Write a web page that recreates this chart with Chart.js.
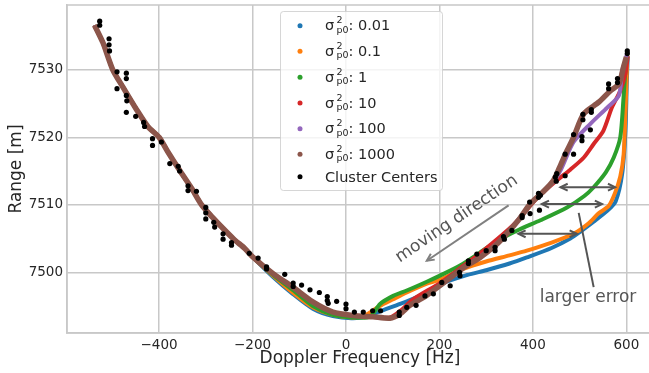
<!DOCTYPE html>
<html>
<head>
<meta charset="utf-8">
<script src="https://cdn.jsdelivr.net/npm/chart.js@4.4.0/dist/chart.umd.min.js"></script>
<style>
body { margin: 0; overflow: hidden; background: #fff; }
#wrap { width: 660px; height: 373px; }
</style>
</head>
<body>
<div id="wrap"><canvas id="mychart" width="660" height="373"></canvas></div>
<script>
// ticks
const freqTicks = [-400, -200, 0, 200, 400, 600];
const rangeTicks = [7500, 7510, 7520, 7530];

// left branch, all six runs lie on top of each other here
const sharedFreq = [-538, -520, -499, -477, -449, -424, -400, -380, -356, -330, -309, -285, -266, -240, -216, -200];
const sharedRange = [7536.6, 7534.0, 7530.0, 7527.4, 7524.2, 7521.6, 7520.0, 7517.7, 7515.1, 7512.4, 7510.0, 7508.1, 7506.7, 7504.9, 7503.5, 7502.3];

// sigma_p0^2 = 0.01
const blueFreq = [-156, -114, -71, -28, 15, 50, 80, 116, 160, 201, 260, 300, 350, 387, 440, 480, 501, 530, 559, 577, 591, 598, 601, 603];
const blueRange = [7499.3, 7496.8, 7494.6, 7493.5, 7493.2, 7493.6, 7494.4, 7495.3, 7496.6, 7498.2, 7499.6, 7500.3, 7501.3, 7502.2, 7503.6, 7505.0, 7506.0, 7507.5, 7509.1, 7510.5, 7514.6, 7521.0, 7528.4, 7532.0];
// 0.1
const orangeFreq = [-156, -114, -71, -28, 15, 40, 70, 101, 130, 173, 201, 251, 300, 350, 387, 440, 487, 520, 540, 562, 576, 587, 594, 598, 601, 602];
const orangeRange = [7499.5, 7497.0, 7494.8, 7493.7, 7493.3, 7493.6, 7494.9, 7496.0, 7497.0, 7498.3, 7498.9, 7500.5, 7501.6, 7502.5, 7503.2, 7504.4, 7505.7, 7507.3, 7508.7, 7509.8, 7511.8, 7514.2, 7517.3, 7523.5, 7529.9, 7532.5];
// 1
const greenFreq = [-156, -114, -71, -28, 15, 51, 73, 101, 130, 173, 201, 244, 280, 323, 370, 416, 473, 510, 530, 556, 573, 587, 594, 599, 602];
const greenRange = [7499.6, 7497.4, 7495.0, 7493.7, 7493.3, 7493.4, 7495.3, 7496.5, 7497.3, 7498.6, 7499.5, 7501.0, 7502.6, 7504.6, 7506.3, 7507.7, 7509.6, 7511.3, 7512.6, 7514.8, 7517.0, 7520.0, 7525.9, 7530.9, 7532.5];
// 10
const redFreq = [-156, -114, -71, -28, 15, 58, 94, 115, 144, 201, 250, 287, 358, 409, 451, 480, 509, 530, 551, 569, 587, 598, 603];
const redRange = [7499.8, 7497.8, 7495.6, 7494.1, 7493.6, 7493.4, 7493.3, 7494.2, 7496.0, 7498.4, 7500.9, 7502.8, 7507.0, 7511.0, 7513.6, 7515.2, 7517.0, 7519.0, 7521.0, 7524.4, 7526.9, 7529.4, 7532.0];
// 100
const purpleFreq = [-156, -114, -71, -28, 15, 58, 94, 115, 137, 171, 216, 250, 287, 320, 344, 370, 394, 420, 444, 460, 487, 523, 559, 584, 591, 598, 602];
const purpleRange = [7499.8, 7497.8, 7495.6, 7494.1, 7493.6, 7493.4, 7493.2, 7493.8, 7495.1, 7496.5, 7498.8, 7500.6, 7502.3, 7504.1, 7505.8, 7507.9, 7510.1, 7511.8, 7513.4, 7515.2, 7519.3, 7522.0, 7524.4, 7526.2, 7529.9, 7531.4, 7532.6];
// 1000
const brownFreq = [-156, -114, -71, -28, 15, 58, 94, 115, 137, 171, 216, 250, 287, 320, 344, 370, 394, 420, 444, 460, 473, 487, 509, 541, 566, 584, 594, 600];
const brownRange = [7499.8, 7497.8, 7495.6, 7494.1, 7493.6, 7493.4, 7493.2, 7493.8, 7495.1, 7496.5, 7498.8, 7500.6, 7502.2, 7504.0, 7505.7, 7507.8, 7510.1, 7511.8, 7513.6, 7516.0, 7518.0, 7520.0, 7523.5, 7525.2, 7526.9, 7527.9, 7530.4, 7531.9];

// cluster centers
const clusterFreq = [-527, -527, -507, -507, -506, -490, -470, -470, -490, -470, -469, -470, -450, -433, -431, -414, -414, -395, -377, -359, -356, -338, -338, -320, -300, -300, -300, -283, -281, -263, -263, -245, -245, -207, -188, -170, -170, -131, -113, -113, -95, -77, -57, -40, -40, -38, -20, 0, 0, 18, 37, 57, 74, 114, 114, 130, 150, 169, 187, 205, 223, 243, 244, 262, 262, 280, 300, 319, 319, 337, 339, 355, 377, 377, 394, 393, 412, 412, 414, 416, 448, 450, 451, 469, 469, 487, 487, 505, 505, 507, 507, 523, 525, 525, 562, 562, 581, 581, 602, 602];
const clusterRange = [7537.2, 7536.6, 7534.6, 7533.7, 7532.8, 7529.7, 7529.5, 7528.7, 7527.2, 7526.2, 7525.4, 7523.7, 7523.1, 7522.2, 7521.6, 7519.8, 7518.8, 7519.3, 7516.1, 7515.7, 7515.0, 7512.8, 7512.1, 7512.0, 7509.6, 7508.8, 7507.9, 7507.4, 7506.7, 7505.7, 7504.9, 7504.4, 7504.0, 7502.8, 7502.1, 7500.8, 7500.5, 7499.7, 7498.4, 7497.9, 7498.1, 7497.4, 7497.0, 7496.4, 7495.8, 7495.4, 7495.7, 7495.3, 7494.6, 7494.1, 7494.1, 7494.3, 7494.3, 7494.1, 7493.6, 7494.8, 7495.1, 7496.5, 7496.8, 7498.5, 7498.0, 7500.0, 7499.5, 7501.7, 7501.3, 7502.7, 7503.2, 7503.7, 7503.2, 7505.3, 7504.9, 7506.2, 7508.1, 7508.4, 7508.7, 7510.4, 7511.7, 7511.1, 7509.2, 7511.4, 7514.1, 7513.5, 7514.6, 7517.5, 7514.3, 7517.5, 7520.4, 7520.1, 7519.5, 7523.4, 7522.6, 7521.1, 7524.1, 7523.7, 7527.9, 7527.2, 7528.7, 7528.1, 7532.4, 7532.8];

const sigmaLabels = ['0.01', '0.1', '1', '10', '100', '1000'];
const colors = ['#1f77b4', '#ff7f0e', '#2ca02c', '#d62728', '#9467bd', '#8c564b'];

function pts(fx, ry) {
  return fx.map((f, i) => ({x: f, y: ry[i]}));
}
function run(tailF, tailR) {
  return pts(sharedFreq.concat(tailF), sharedRange.concat(tailR));
}

const runs = [
  run(blueFreq, blueRange),
  run(orangeFreq, orangeRange),
  run(greenFreq, greenRange),
  run(redFreq, redRange),
  run(purpleFreq, purpleRange),
  run(brownFreq, brownRange)
];

const datasets = runs.map((d, i) => ({
  label: sigmaLabels[i],
  data: d,
  showLine: true,
  borderColor: colors[i],
  backgroundColor: colors[i],
  borderWidth: i === 5 ? 5.5 : 4,
  pointRadius: 0,
  tension: 0.25,
  order: 6 - i
}));
datasets.push({
  label: 'Cluster Centers',
  data: pts(clusterFreq, clusterRange),
  backgroundColor: '#000',
  borderColor: '#000',
  pointRadius: 2.6,
  borderWidth: 0,
  order: 0
});

const FONT = 'DejaVu Sans';
const txt = '#262626';

function arrowHead(ctx, x1, y1, x2, y2, len) {
  const a = Math.atan2(y2 - y1, x2 - x1);
  ctx.beginPath();
  ctx.moveTo(x2 - len * Math.cos(a - 0.45), y2 - len * Math.sin(a - 0.45));
  ctx.lineTo(x2, y2);
  ctx.lineTo(x2 - len * Math.cos(a + 0.45), y2 - len * Math.sin(a + 0.45));
  ctx.stroke();
}

function arrow(ctx, x1, y1, x2, y2, both) {
  ctx.beginPath();
  ctx.moveTo(x1, y1);
  ctx.lineTo(x2, y2);
  ctx.stroke();
  arrowHead(ctx, x1, y1, x2, y2, 8);
  if (both) arrowHead(ctx, x2, y2, x1, y1, 8);
}

const extras = {
  id: 'extras',
  afterDraw(chart) {
    const {ctx, chartArea: a, scales: {x, y}} = chart;
    ctx.save();
    // frame
    ctx.strokeStyle = '#c8c8c8';
    ctx.lineWidth = 1.5;
    ctx.strokeRect(a.left, a.top, a.right - a.left, a.bottom - a.top);

    // moving direction
    ctx.strokeStyle = '#808080';
    ctx.lineWidth = 2;
    arrow(ctx, x.getPixelForValue(348), y.getPixelForValue(7509.9), x.getPixelForValue(173), y.getPixelForValue(7501.7), false);
    ctx.save();
    ctx.translate(x.getPixelForValue(237), y.getPixelForValue(7507.9));
    ctx.rotate(-34 * Math.PI / 180);
    ctx.fillStyle = '#555';
    ctx.font = '17px ' + FONT;
    ctx.textAlign = 'center';
    ctx.textBaseline = 'middle';
    ctx.fillText('moving direction', 0, 0);
    ctx.restore();

    // error arrows
    ctx.strokeStyle = '#555';
    ctx.lineWidth = 2;
    arrow(ctx, x.getPixelForValue(459), y.getPixelForValue(7512.6), x.getPixelForValue(576), y.getPixelForValue(7512.6), true);
    arrow(ctx, x.getPixelForValue(419), y.getPixelForValue(7510.1), x.getPixelForValue(548), y.getPixelForValue(7510.1), true);
    arrow(ctx, x.getPixelForValue(369), y.getPixelForValue(7505.7), x.getPixelForValue(494), y.getPixelForValue(7505.7), true);
    ctx.beginPath();
    ctx.moveTo(x.getPixelForValue(498), y.getPixelForValue(7508.8));
    ctx.lineTo(x.getPixelForValue(530), y.getPixelForValue(7497.8));
    ctx.stroke();
    ctx.fillStyle = '#555';
    ctx.font = '17px ' + FONT;
    ctx.textAlign = 'center';
    ctx.textBaseline = 'middle';
    ctx.fillText('larger error', x.getPixelForValue(518), y.getPixelForValue(7496.3));

    // legend
    const lx = 280, ly = 11, lw = 162, lh = 179;
    ctx.fillStyle = 'rgba(255,255,255,0.8)';
    ctx.strokeStyle = 'rgba(204,204,204,0.8)';
    ctx.lineWidth = 1;
    ctx.beginPath();
    ctx.roundRect(lx + 0.5, ly + 0.5, lw, lh, 3);
    ctx.fill();
    ctx.stroke();
    const rows = [25.7, 51.3, 77.3, 103, 128.7, 154.3, 176.7];
    ctx.textAlign = 'left';
    ctx.textBaseline = 'alphabetic';
    rows.forEach((ry, i) => {
      ctx.fillStyle = i < 6 ? colors[i] : '#000';
      ctx.beginPath();
      ctx.arc(300, ry, 2.5, 0, Math.PI * 2);
      ctx.fill();
      ctx.fillStyle = txt;
      if (i < 6) {
        ctx.font = '14.5px ' + FONT;
        ctx.fillText('\u03c3', 325, ry + 4.5);
        ctx.font = '9.5px ' + FONT;
        ctx.fillText('2', 336.5, ry - 2.5);
        ctx.fillText('p0', 336.5, ry + 7);
        ctx.font = '14.5px ' + FONT;
        ctx.fillText(': ' + sigmaLabels[i], 348.5, ry + 4.5);
      } else {
        ctx.font = '14.5px ' + FONT;
        ctx.fillText('Cluster Centers', 325, ry + 4.8);
      }
    });
    ctx.restore();
  }
};

const tickFont = {family: FONT, size: 13.5};
const titleFont = {family: FONT, size: 17};

const chart1 = new Chart(document.getElementById('mychart'), {
  type: 'scatter',
  data: {datasets},
  options: {
    responsive: false,
    animation: false,
    devicePixelRatio: 1,
    layout: {padding: {top: 5, right: 7, left: 0, bottom: 0}},
    plugins: {legend: {display: false}, tooltip: {enabled: false}},
    scales: {
      x: {
        type: 'linear',
        min: -597,
        max: 657,
        afterBuildTicks: s => { s.ticks = freqTicks.map(v => ({value: v})); },
        afterFit: s => { s.height = 40; s.paddingLeft = 0; s.paddingRight = 0; },
        grid: {color: '#c8c8c8', lineWidth: 1.5, drawTicks: false},
        border: {color: '#c8c8c8', width: 1.5},
        ticks: {
          color: txt, font: tickFont, padding: 4, maxRotation: 0,
          callback: v => v < 0 ? '\u2212' + Math.abs(v) : String(v)
        },
        title: {display: true, text: 'Doppler Frequency [Hz]', color: txt, font: titleFont, padding: {top: 0, bottom: 4}}
      },
      y: {
        type: 'linear',
        min: 7491.0,
        max: 7539.6,
        afterBuildTicks: s => { s.ticks = rangeTicks.map(v => ({value: v})); },
        afterFit: s => { s.width = 67; s.paddingTop = 0; s.paddingBottom = 0; },
        grid: {color: '#c8c8c8', lineWidth: 1.5, drawTicks: false},
        border: {color: '#c8c8c8', width: 1.5},
        ticks: {color: txt, font: tickFont, padding: 4, callback: v => String(v)},
        title: {display: true, text: 'Range [m]', color: txt, font: titleFont, padding: {top: 6, bottom: 0}}
      }
    }
  },
  plugins: [extras]
});
</script>
</body>
</html>
